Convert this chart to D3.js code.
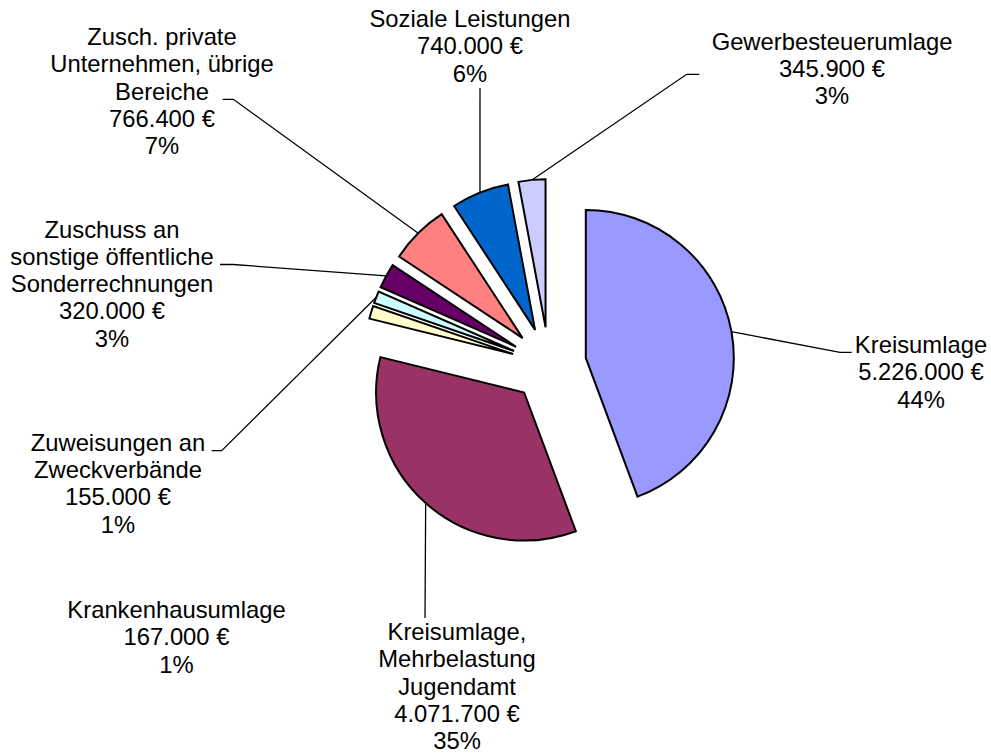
<!DOCTYPE html>
<html>
<head>
<meta charset="utf-8">
<script src="https://cdn.jsdelivr.net/npm/d3@7"></script>
<style>
body { margin: 0; background: #fff; }
text { font-family: "Liberation Sans", Arial, sans-serif; font-size: 23.8px; fill: #000; }
</style>
</head>
<body>
<script>
var categories = [
  'Kreisumlage',
  'Kreisumlage,\nMehrbelastung\nJugendamt',
  'Krankenhausumlage',
  'Zuweisungen an\nZweckverbände',
  'Zuschuss an\nsonstige öffentliche\nSonderrechnungen',
  'Zusch. private\nUnternehmen, übrige\nBereiche',
  'Soziale Leistungen',
  'Gewerbesteuerumlage'
]
var values = [5226000, 4071700, 167000, 155000, 320000, 766400, 740000, 345900]
var percents = [44, 35, 1, 1, 3, 7, 6, 3]

var colors = ['#9999ff', '#993366', '#ffffcc', '#ccffff', '#660066', '#ff8080', '#0066cc', '#ccccff']

// labels were dragged by hand in the original, so their spots are fixed here
var labelPos = [
  {x: 921, y: 353, lead: [[851.7, 352.3], [840, 352.3]]},
  {x: 457, y: 640, lead: [[425, 618]]},
  {x: 176.5, y: 618, lead: null},
  {x: 118, y: 450.7, lead: [[211.7, 450.7], [221.7, 450.7]]},
  {x: 112, y: 237.5, lead: [[220, 264.5], [233, 264.5]]},
  {x: 162, y: 45, lead: [[222.7, 99.3], [233.3, 99.3]]},
  {x: 470, y: 27, lead: [[480, 88]]},
  {x: 832, y: 49.5, lead: [[699.3, 74.3], [686.7, 74.3]]}
]

var W = 991, H = 753
var cx = 549, cy = 364.6, r = 148, explode = 37.4
var lineH = 27.3

var de = d3.formatLocale({decimal: ',', thousands: '.', grouping: [3], currency: ['', ' €']})
var money = de.format('$,.0f')

var svg = d3.select('body').append('svg').attr('width', W).attr('height', H)

var pie = d3.pie().sort(null).value(function(d){ return d })
var arcs = pie(values)
var arc = d3.arc().innerRadius(0).outerRadius(r)

function dir(a, k){
  var m = (a.startAngle + a.endAngle) / 2
  return [Math.sin(m) * k, -Math.cos(m) * k]
}

var g = svg.append('g').attr('transform', 'translate(' + cx + ',' + cy + ')')

// leader lines first, slices cover any overshoot
var leadLine = d3.line()
arcs.forEach(function(a, i){
  var lp = labelPos[i]
  if (!lp.lead) return
  var end = dir(a, r + explode)
  var pts = lp.lead.map(function(p){ return [p[0] - cx, p[1] - cy] })
  pts.push(end)
  g.append('path')
    .attr('d', leadLine(pts))
    .attr('fill', 'none')
    .attr('stroke', '#000')
    .attr('stroke-width', 1.3)
})

g.selectAll('path.slice').data(arcs).enter().append('path')
  .attr('class', 'slice')
  .attr('transform', function(d){ var o = dir(d, explode); return 'translate(' + o[0] + ',' + o[1] + ')' })
  .attr('d', arc)
  .attr('fill', function(d, i){ return colors[i] })
  .attr('stroke', '#000')
  .attr('stroke-width', 2)
  .attr('stroke-linejoin', 'miter')

arcs.forEach(function(a, i){
  var lp = labelPos[i]
  var lines = categories[i].split('\n').concat([money(values[i]), percents[i] + '%'])
  var t = svg.append('text').attr('text-anchor', 'middle')
  lines.forEach(function(s, j){
    t.append('tspan').attr('x', lp.x).attr('y', lp.y + j * lineH).text(s)
  })
})
</script>
</body>
</html>
